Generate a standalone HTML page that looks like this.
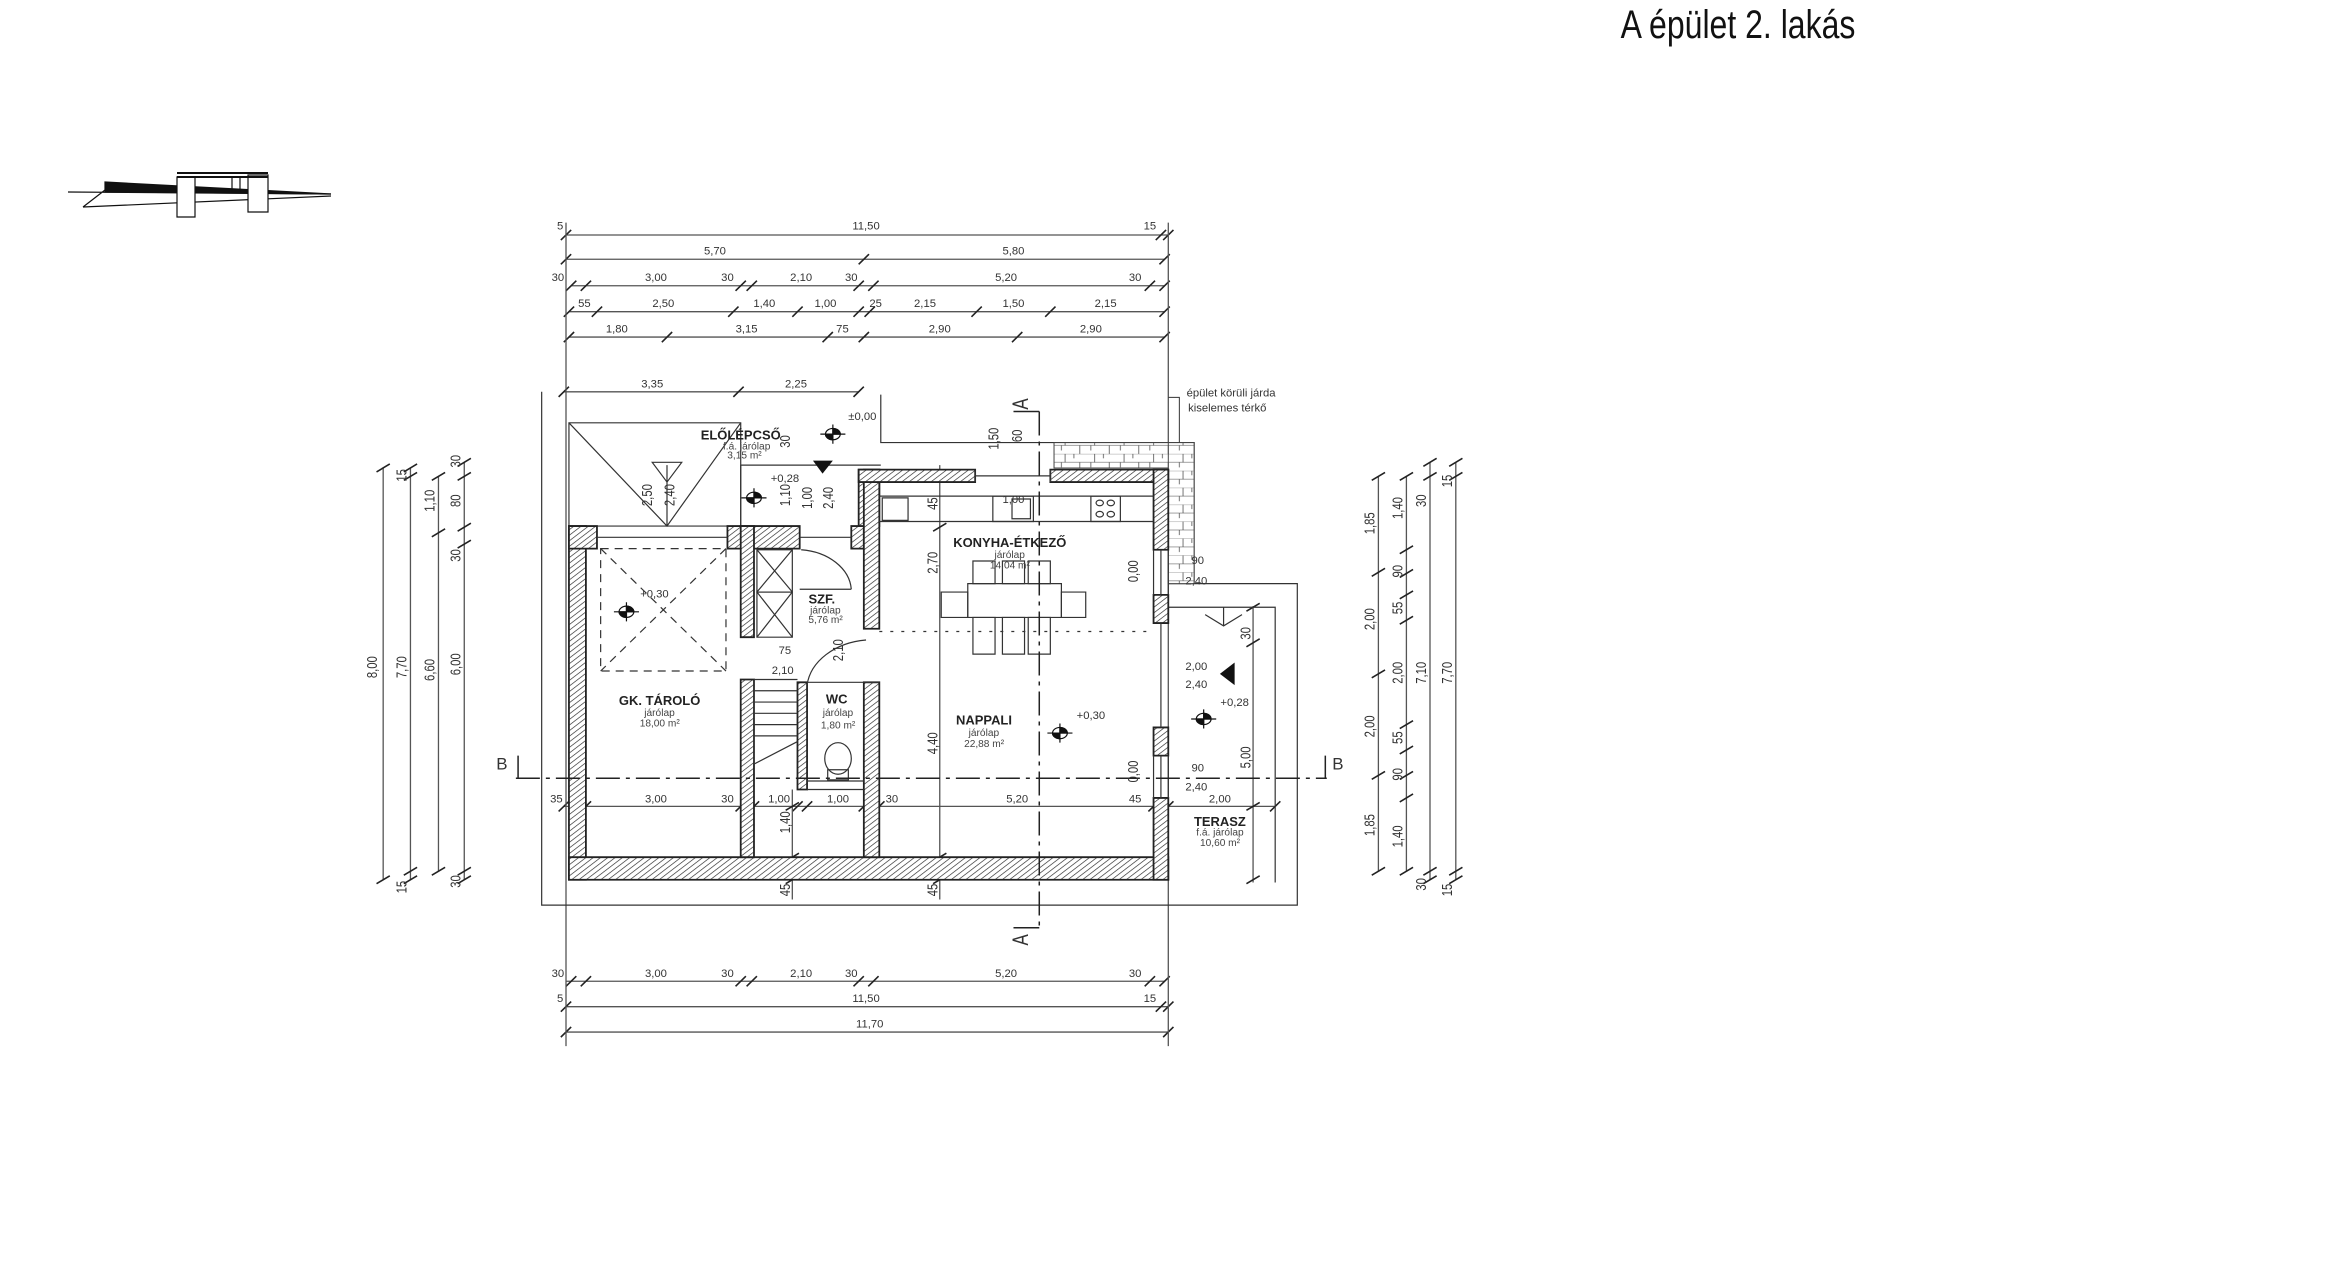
<!DOCTYPE html>
<html><head><meta charset="utf-8">
<style>
html,body{margin:0;padding:0;background:#fff;}
svg{display:block}
svg *{vector-effect:non-scaling-stroke}
.t{font-family:"Liberation Sans",sans-serif;fill:#333;text-anchor:middle;transform-box:fill-box;transform-origin:center;transform:scaleX(0.765)}
.d{font-size:20px;font-family:"Liberation Sans",sans-serif;fill:#333}
.b{font-size:23px;font-weight:bold;fill:#222}
.s{font-size:18px;fill:#444}
.r{font-family:"Liberation Sans",sans-serif;text-anchor:middle;transform-box:fill-box;transform-origin:center;transform:rotate(-90deg)}
</style></head>
<body>
<svg width="2347" height="1280" viewBox="0 0 2347 1280" xmlns="http://www.w3.org/2000/svg">
<defs>
<pattern id="h" patternUnits="userSpaceOnUse" width="7" height="7" patternTransform="rotate(45)">
<rect width="7" height="7" fill="#fff"/><line x1="0" y1="0" x2="0" y2="7" stroke="#333" stroke-width="2.2"/>
</pattern>
<pattern id="pv" patternUnits="userSpaceOnUse" width="40" height="30">
<rect width="40" height="30" fill="#fff"/>
<path d="M0 0H40M0 15H40M10 0V15M30 15V30M22 0V8M5 15V24" stroke="#444" stroke-width="1" fill="none"/>
</pattern>
</defs>

<text x="1738" y="38" style="font-family:'Liberation Sans',sans-serif;font-size:40px;fill:#111;text-anchor:middle;transform-box:fill-box;transform-origin:center;transform:scaleX(0.8)">A épület 2. lakás</text>

<!-- north arrow -->
<g stroke="#111" fill="none" stroke-width="1.2">
<polygon points="105,182 331,194 105,192" fill="#111"/>
<path d="M68,192 L331,194 M83,207 L331,196 M83,207 L105,190"/>
<rect x="177" y="177" width="18" height="40" fill="#fff"/>
<rect x="248" y="175" width="20" height="37" fill="#fff"/>
<path d="M177,177 H268 M177,173 H268" stroke-width="2"/>
<path d="M232,177 V192 M240,177 V192"/>
</g>

<g transform="translate(350,200) scale(0.7372,0.5641)">
<g stroke="#555" stroke-width="1.3" fill="none">
<path d="M293 62H1110 M293 105H1105 M300 152H1105 M297 198H1105 M297 243H1105 M290 340H690 M293 1385H1105 M293 1430H1110 M293 1475H1110 M290 1075H1255"/>
<path stroke="#222" stroke-width="1.6" d="
M286 71L300 53M1093 71L1107 53M1103 71L1117 53
M286 114L300 96M690 114L704 96M1098 114L1112 96
M293 161L307 143M313 161L327 143M523 161L537 143M538 161L552 143M683 161L697 143M703 161L717 143M1078 161L1092 143M1098 161L1112 143
M290 207L304 189M328 207L342 189M513 207L527 189M600 207L614 189M683 207L697 189M698 207L712 189M843 207L857 189M943 207L957 189M1098 207L1112 189
M290 252L304 234M423 252L437 234M641 252L655 234M690 252L704 234M898 252L912 234M1098 252L1112 234
M283 349L297 331M520 349L534 331M683 349L697 331
M293 1394L307 1376M313 1394L327 1376M523 1394L537 1376M538 1394L552 1376M683 1394L697 1376M703 1394L717 1376M1078 1394L1092 1376M1098 1394L1112 1376
M286 1439L300 1421M1093 1439L1107 1421M1103 1439L1117 1421
M286 1484L300 1466M1103 1484L1117 1466
M283 1084L297 1066M313 1084L327 1066M523 1084L537 1066M541 1084L555 1066M600 1084L614 1066M613 1084L627 1066M690 1084L704 1066M711 1084L725 1066M1083 1084L1097 1066M1103 1084L1117 1066M1248 1084L1262 1066"/>
<path d="M293 40V1500M1110 40V1500"/>
<path d="M45 475V1205M82 475V1205M120 490V1190M155 465V1205M1395 490V1190M1433 490V1190M1465 465V1205M1500 465V1205M800 470V1240M600 1045V1240M1225 720V1210"/>
<path stroke="#222" stroke-width="1.6" d="
M36 482L54 468M36 1212L54 1198
M73 482L91 468M73 497L91 483M73 1197L91 1183M73 1212L91 1198
M111 497L129 483M111 597L129 583M111 1197L129 1183
M146 472L164 458M146 497L164 483M146 587L164 573M146 617L164 603M146 1197L164 1183M146 1212L164 1198
M1386 497L1404 483M1386 667L1404 653M1386 847L1404 833M1386 1027L1404 1013M1386 1197L1404 1183
M1424 497L1442 483M1424 627L1442 613M1424 669L1442 655M1424 707L1442 693M1424 752L1442 738M1424 937L1442 923M1424 982L1442 968M1424 1027L1442 1013M1424 1067L1442 1053M1424 1197L1442 1183
M1456 472L1474 458M1456 497L1474 483M1456 1197L1474 1183M1456 1212L1474 1198
M1491 472L1509 458M1491 497L1509 483M1491 1197L1509 1183M1491 1212L1509 1198
M791 497L809 483M791 587L809 573M791 1172L809 1158M791 1212L809 1198
M591 1082L609 1068M591 1172L609 1158M591 1212L609 1198
M1216 729L1234 715M1216 792L1234 778M1216 1082L1234 1068M1216 1212L1234 1198"/>
</g>

<g stroke="#333" stroke-width="1.2" fill="none">
<path d="M260 340V1250H1285V680H1110M1110 722H1255V1210M720 345V430H1145V680"/>
<rect x="297" y="395" width="233" height="183"/>
<path d="M297 395L430 578L530 395M430 470V578M530 470H720M530 470V578"/>
<polygon points="410,465 450,465 430,500"/>
<path d="M1160 735L1185 755L1210 735M1185 722V755"/>
</g>
<rect x="955" y="430" width="190" height="45" fill="url(#pv)" stroke="#444"/>
<rect x="1110" y="430" width="35" height="250" fill="url(#pv)" stroke="#444"/>
<path d="M1110 350H1125V430" stroke="#333" fill="none"/>

<g fill="url(#h)" stroke="#222" stroke-width="1.8">
<rect x="297" y="578" width="23" height="627"/>
<rect x="297" y="1165" width="813" height="40"/>
<rect x="297" y="578" width="38" height="40"/>
<rect x="512" y="578" width="98" height="40"/>
<rect x="530" y="578" width="18" height="197"/>
<rect x="530" y="850" width="18" height="315"/>
<rect x="680" y="578" width="17" height="40"/>
<rect x="690" y="478" width="28" height="100"/>
<rect x="697" y="478" width="21" height="282"/>
<rect x="697" y="855" width="21" height="310"/>
<rect x="690" y="478" width="158" height="22"/>
<rect x="950" y="478" width="160" height="22"/>
<rect x="1090" y="478" width="20" height="142"/>
<rect x="1090" y="700" width="20" height="50"/>
<rect x="1090" y="935" width="20" height="50"/>
<rect x="1090" y="1060" width="20" height="145"/>
<rect x="607" y="855" width="13" height="190"/>
</g>
<g stroke="#333" stroke-width="1.2" fill="none">
<path d="M335 598H512M610 598H680M848 478V500M950 478V500M848 489H950M1090 620V700M1110 620V700M1100 620V700M1090 985V1060M1110 985V1060M1100 985V1060M1100 750V935M620 855H718M620 1030H697M620 1045H697"/>
<rect x="552" y="620" width="48" height="75"/><path d="M552 620L600 695M600 620L552 695"/>
<rect x="552" y="695" width="48" height="80"/><path d="M552 695L600 775M600 695L552 775"/>
<path d="M612 620A75 75 0 0 1 680 690M610 690H680"/>
<path d="M548 850H607M548 870H607M548 890H607M548 910H607M548 930H607M548 950H607M548 1000L607 960M548 1000V850"/>
<path d="M620 860A90 90 0 0 1 700 780"/>
<ellipse cx="662" cy="990" rx="18" ry="28"/><rect x="648" y="1010" width="28" height="18"/>
<g stroke-dasharray="8,6"><rect x="340" y="618" width="170" height="217"/><path d="M340 618L510 835M510 618L340 835"/><path d="M718 765H1090" stroke-dasharray="3,8"/></g>
<path d="M718 525H1090M718 570H1090"/>
<rect x="722" y="528" width="35" height="40"/>
<rect x="872" y="525" width="55" height="45"/><rect x="898" y="530" width="25" height="35"/>
<rect x="1005" y="525" width="40" height="45"/><circle cx="1017" cy="537" r="5"/><circle cx="1032" cy="537" r="5"/><circle cx="1017" cy="557" r="5"/><circle cx="1032" cy="557" r="5"/>
<rect x="838" y="680" width="127" height="60" fill="#fff"/>
<rect x="845" y="640" width="30" height="40"/><rect x="885" y="640" width="30" height="40"/><rect x="920" y="640" width="30" height="40"/>
<rect x="845" y="740" width="30" height="65"/><rect x="885" y="740" width="30" height="65"/><rect x="920" y="740" width="30" height="65"/>
<rect x="802" y="695" width="36" height="45"/><rect x="965" y="695" width="33" height="45"/>
</g>
<g stroke="#222" stroke-width="1.5" fill="none" stroke-dasharray="24,6,4,6">
<path d="M225 1025H1325M935 375V1290"/>
</g>
<path d="M228 985V1025M1323 985V1025M900 375H935M900 1290H935" stroke="#222" stroke-width="1.5"/>
<g stroke="#111" stroke-width="1.2">
<g transform="translate(375,730)"><circle r="10" fill="#fff"/><path d="M0 -10A10 10 0 0 1 10 0H0Z M0 10A10 10 0 0 1 -10 0H0Z" fill="#111"/><path d="M-17 0H17M0 -17V17"/></g>
<g transform="translate(548,528)"><circle r="10" fill="#fff"/><path d="M0 -10A10 10 0 0 1 10 0H0Z M0 10A10 10 0 0 1 -10 0H0Z" fill="#111"/><path d="M-17 0H17M0 -17V17"/></g>
<g transform="translate(655,415)"><circle r="10" fill="#fff"/><path d="M0 -10A10 10 0 0 1 10 0H0Z M0 10A10 10 0 0 1 -10 0H0Z" fill="#111"/><path d="M-17 0H17M0 -17V17"/></g>
<g transform="translate(963,945)"><circle r="10" fill="#fff"/><path d="M0 -10A10 10 0 0 1 10 0H0Z M0 10A10 10 0 0 1 -10 0H0Z" fill="#111"/><path d="M-17 0H17M0 -17V17"/></g>
<g transform="translate(1158,920)"><circle r="10" fill="#fff"/><path d="M0 -10A10 10 0 0 1 10 0H0Z M0 10A10 10 0 0 1 -10 0H0Z" fill="#111"/><path d="M-17 0H17M0 -17V17"/></g>
</g>
<polygon points="628,462 655,462 641,485" fill="#111"/>
<polygon points="1200,820 1200,860 1180,840" fill="#111"/>

<g class="d">
<text class="t" x="285" y="52">5</text><text class="t" x="700" y="52">11,50</text><text class="t" x="1085" y="52">15</text>
<text class="t" x="495" y="97">5,70</text><text class="t" x="900" y="97">5,80</text>
<text class="t" x="282" y="144">30</text><text class="t" x="415" y="144">3,00</text><text class="t" x="512" y="144">30</text><text class="t" x="612" y="144">2,10</text><text class="t" x="680" y="144">30</text><text class="t" x="890" y="144">5,20</text><text class="t" x="1065" y="144">30</text>
<text class="t" x="318" y="190">55</text><text class="t" x="425" y="190">2,50</text><text class="t" x="562" y="190">1,40</text><text class="t" x="645" y="190">1,00</text><text class="t" x="713" y="190">25</text><text class="t" x="780" y="190">2,15</text><text class="t" x="900" y="190">1,50</text><text class="t" x="1025" y="190">2,15</text>
<text class="t" x="362" y="235">1,80</text><text class="t" x="538" y="235">3,15</text><text class="t" x="668" y="235">75</text><text class="t" x="800" y="235">2,90</text><text class="t" x="1005" y="235">2,90</text>
<text class="t" x="410" y="332">3,35</text><text class="t" x="605" y="332">2,25</text>
<text class="t" x="282" y="1377">30</text><text class="t" x="415" y="1377">3,00</text><text class="t" x="512" y="1377">30</text><text class="t" x="612" y="1377">2,10</text><text class="t" x="680" y="1377">30</text><text class="t" x="890" y="1377">5,20</text><text class="t" x="1065" y="1377">30</text>
<text class="t" x="285" y="1422">5</text><text class="t" x="700" y="1422">11,50</text><text class="t" x="1085" y="1422">15</text>
<text class="t" x="705" y="1467">11,70</text>
<text class="t" x="280" y="1068">35</text><text class="t" x="415" y="1068">3,00</text><text class="t" x="512" y="1068">30</text><text class="t" x="582" y="1068">1,00</text><text class="t" x="662" y="1068">1,00</text><text class="t" x="735" y="1068">30</text><text class="t" x="905" y="1068">5,20</text><text class="t" x="1065" y="1068">45</text><text class="t" x="1180" y="1068">2,00</text>
<text class="t" x="1150" y="645">90</text><text class="t" x="1148" y="682">2,40</text><text class="t" x="1150" y="1013">90</text><text class="t" x="1148" y="1047">2,40</text><text class="t" x="1148" y="833">2,00</text><text class="t" x="1148" y="865">2,40</text>
<text class="t" x="590" y="805">75</text><text class="t" x="587" y="840">2,10</text>
<text class="t" x="413" y="705">+0,30</text><text class="t" x="590" y="500">+0,28</text><text class="t" x="1005" y="920">+0,30</text><text class="t" x="1200" y="897">+0,28</text><text class="t" x="695" y="390">±0,00</text>
<text class="t" x="1195" y="348">épület körüli járda</text><text class="t" x="1190" y="375">kiselemes térkő</text>
<text class="t" x="900" y="537">1,00</text>
<text class="t" x="206" y="1010" style="font-size:30px">B</text><text class="t" x="1340" y="1010" style="font-size:30px">B</text>
</g>
<g class="d">
<text class="r" x="30" y="835">8,00</text><text class="r" x="70" y="835">7,70</text><text class="r" x="108" y="840">6,60</text><text class="r" x="143" y="830">6,00</text>
<text class="r" x="70" y="495">15</text><text class="r" x="70" y="1225">15</text><text class="r" x="108" y="540">1,10</text><text class="r" x="143" y="470">30</text><text class="r" x="143" y="540">80</text><text class="r" x="143" y="637">30</text><text class="r" x="143" y="1215">30</text>
<text class="r" x="1383" y="580">1,85</text><text class="r" x="1383" y="750">2,00</text><text class="r" x="1383" y="940">2,00</text><text class="r" x="1383" y="1115">1,85</text>
<text class="r" x="1421" y="553">1,40</text><text class="r" x="1421" y="665">90</text><text class="r" x="1421" y="730">55</text><text class="r" x="1421" y="845">2,00</text><text class="r" x="1421" y="960">55</text><text class="r" x="1421" y="1025">90</text><text class="r" x="1421" y="1135">1,40</text>
<text class="r" x="1453" y="540">30</text><text class="r" x="1453" y="845">7,10</text><text class="r" x="1453" y="1220">30</text>
<text class="r" x="1488" y="505">15</text><text class="r" x="1488" y="845">7,70</text><text class="r" x="1488" y="1230">15</text>
<text class="r" x="790" y="650">2,70</text><text class="r" x="790" y="970">4,40</text><text class="r" x="790" y="1230">45</text><text class="r" x="790" y="545">45</text><text class="r" x="590" y="1230">45</text><text class="r" x="590" y="1110">1,40</text>
<text class="r" x="873" y="430">1,50</text><text class="r" x="905" y="425">60</text>
<text class="r" x="403" y="530">2,50</text><text class="r" x="433" y="530">2,40</text><text class="r" x="620" y="535">1,00</text><text class="r" x="648" y="535">2,40</text><text class="r" x="590" y="530">1,10</text><text class="r" x="590" y="435">30</text>
<text class="r" x="1062" y="665">0,00</text><text class="r" x="1062" y="1020">0,00</text><text class="r" x="1215" y="775">30</text><text class="r" x="1215" y="995">5,00</text><text class="r" x="662" y="805">2,10</text>
<text class="r" x="910" y="370" style="font-size:30px">A</text><text class="r" x="910" y="1320" style="font-size:30px">A</text>
</g>
<text class="t b" x="530" y="425">ELŐLÉPCSŐ</text><text class="t s" x="538" y="442">f.á. járólap</text><text class="t s" x="535" y="458">3,15 m²</text>
<text class="t b" x="895" y="615">KONYHA-ÉTKEZŐ</text><text class="t s" x="895" y="635">járólap</text><text class="t s" x="895" y="653">14,04 m²</text>
<text class="t b" x="640" y="715">SZF.</text><text class="t s" x="645" y="733">járólap</text><text class="t s" x="645" y="750">5,76 m²</text>
<text class="t b" x="420" y="895">GK. TÁROLÓ</text><text class="t s" x="420" y="915">járólap</text><text class="t s" x="420" y="933">18,00 m²</text>
<text class="t b" x="660" y="893">WC</text><text class="t s" x="662" y="915">járólap</text><text class="t s" x="662" y="937">1,80 m²</text>
<text class="t b" x="860" y="930">NAPPALI</text><text class="t s" x="860" y="950">járólap</text><text class="t s" x="860" y="970">22,88 m²</text>
<text class="t b" x="1180" y="1110">TERASZ</text><text class="t s" x="1180" y="1127">f.á. járólap</text><text class="t s" x="1180" y="1145">10,60 m²</text>
</g>
</svg>
</body></html>
